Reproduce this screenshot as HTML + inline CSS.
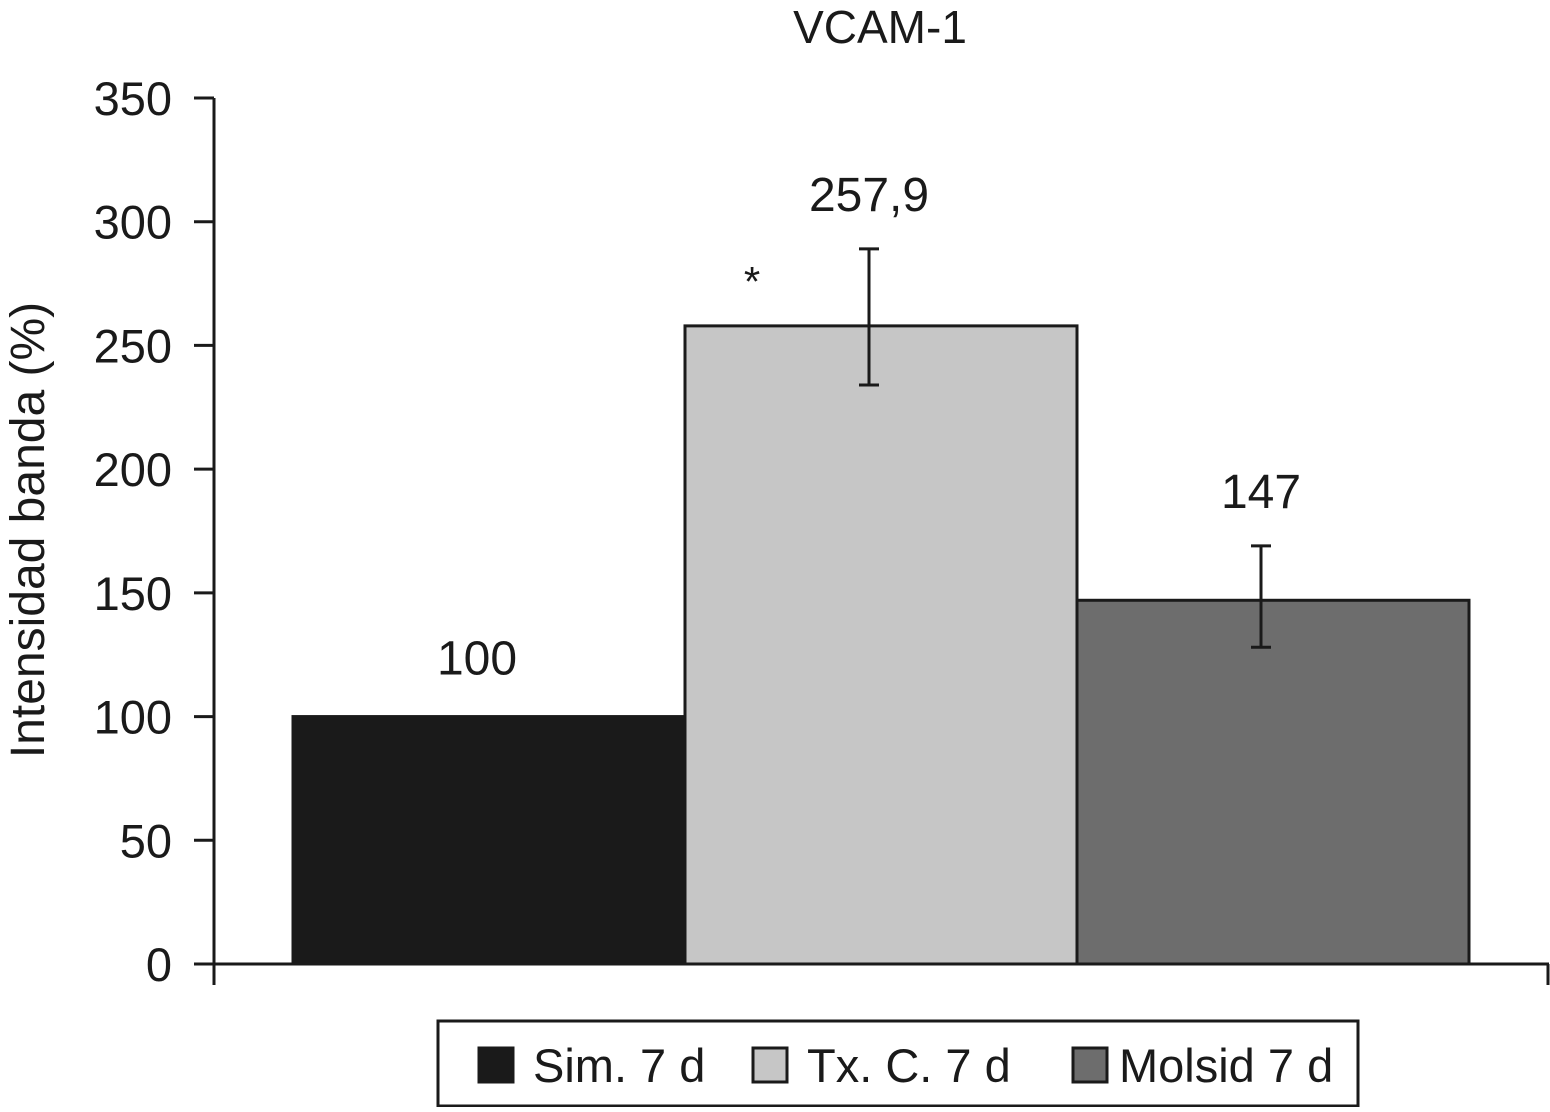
<!DOCTYPE html>
<html><head><meta charset="utf-8"><style>
html,body{margin:0;padding:0;background:#fff;}
svg text{font-family:"Liberation Sans",sans-serif;fill:#1a1a1a;}
</style></head><body>
<svg id="c" width="1550" height="1107" viewBox="0 0 1550 1107">
<text x="880" y="43" font-size="46" text-anchor="middle">VCAM-1</text>
<text transform="translate(44,530) rotate(-90)" font-size="48" text-anchor="middle">Intensidad banda (%)</text>
<g id="axes"></g><g id="bars"></g>
<rect x="438" y="1021" width="920" height="85" fill="#fff" stroke="#1a1a1a" stroke-width="3"/>
<g id="legend"></g>
</svg>
<script>
const categories=["Sim. 7 d","Tx. C. 7 d","Molsid 7 d"];
const values=[100,257.9,147];
const errLow=[null,234,128];
const errHigh=[null,289,169];
const valueLabels=["100","257,9","147"];
const colors=["#1a1a1a","#c6c6c6","#6d6d6d"];
const ticks=[0,50,100,150,200,250,300,350];
const NS="http://www.w3.org/2000/svg";
function mk(t,a,p){const e=document.createElementNS(NS,t);for(const k in a)e.setAttribute(k,a[k]);p.appendChild(e);return e;}
const y=v=>964-v*(866/350);
const bx0=293,bw=392;
const x=i=>bx0+i*bw;
const axes=document.getElementById('axes'),bars=document.getElementById('bars'),leg=document.getElementById('legend');
let a=mk('line',{x1:214,y1:98,x2:214,y2:985,stroke:'#1a1a1a','stroke-width':3},axes);


a=mk('line',{x1:194,y1:964,x2:1549,y2:964,stroke:'#1a1a1a','stroke-width':3},axes);


mk('line',{x1:1548,y1:964,x2:1548,y2:985,stroke:'#1a1a1a','stroke-width':3},axes);
ticks.forEach(t=>{
 mk('line',{x1:194,y1:y(t),x2:214,y2:y(t),stroke:'#1a1a1a','stroke-width':3},axes);
 const tx=mk('text',{x:172,y:y(t)+17,'font-size':47,'text-anchor':'end'},axes);
 tx.textContent=t;
 
 
});
values.forEach((v,i)=>{
 const r=mk('rect',{x:x(i),y:y(v),width:bw,height:964-y(v),fill:colors[i],stroke:'#1a1a1a','stroke-width':3},bars);
 
 
 const cx=x(i)+bw/2-12;
 let top=y(v);
 if(errHigh[i]!=null){
  mk('line',{x1:cx,y1:y(errHigh[i]),x2:cx,y2:y(errLow[i]),stroke:'#1a1a1a','stroke-width':3},bars);
  mk('line',{x1:cx-10,y1:y(errHigh[i]),x2:cx+10,y2:y(errHigh[i]),stroke:'#1a1a1a','stroke-width':3},bars);
  mk('line',{x1:cx-10,y1:y(errLow[i]),x2:cx+10,y2:y(errLow[i]),stroke:'#1a1a1a','stroke-width':3},bars);
  top=y(errHigh[i]);
 }
 const lt=mk('text',{x:cx,y:top-(errHigh[i]!=null?38:42),'font-size':48,'text-anchor':'middle'},bars);
 lt.textContent=valueLabels[i];
 
 
});
const st=mk('text',{x:752,y:296,'font-size':42,'text-anchor':'middle'},bars);
st.textContent='*';


const lx=[477,751,1071];
categories.forEach((c,i)=>{
 const g=mk('g',{},leg);
 
 
 mk('rect',{x:lx[i]+2,y:1048,width:34,height:34,fill:colors[i],stroke:'#1a1a1a','stroke-width':3},g);
 const t=mk('text',{x:lx[i]+(i==2?48:56),y:1082,'font-size':47},g);
 t.textContent=c;
});
</script>
</body></html>
